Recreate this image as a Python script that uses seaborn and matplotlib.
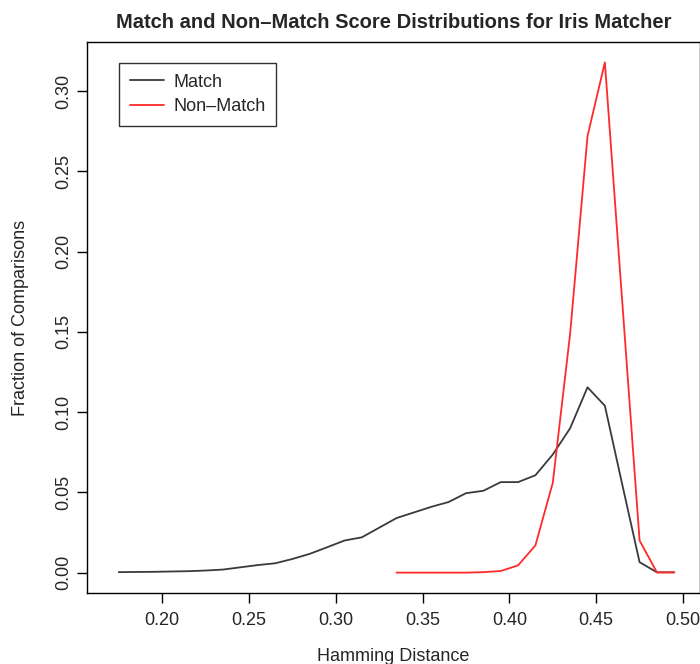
import numpy as np
import pandas as pd
import matplotlib
matplotlib.use("Agg")
import matplotlib.pyplot as plt
import seaborn as sns

match_x = [0.175, 0.185, 0.195, 0.205, 0.215, 0.225, 0.235, 0.245, 0.255, 0.265,
           0.275, 0.285, 0.295, 0.305, 0.315, 0.325, 0.335, 0.345, 0.355, 0.365,
           0.375, 0.385, 0.395, 0.405, 0.415, 0.425, 0.435, 0.445, 0.455, 0.465,
           0.475, 0.485, 0.495]
match_y = [0.0003, 0.0004, 0.0005, 0.0007, 0.0009, 0.0013, 0.0019, 0.0033, 0.0047, 0.0058,
           0.0085, 0.0117, 0.0158, 0.0200, 0.0220, 0.0280, 0.0340, 0.0375, 0.0410, 0.0440,
           0.0495, 0.0510, 0.0564, 0.0564, 0.0607, 0.0736, 0.0900, 0.1155, 0.1040, 0.0550,
           0.0065, 0.0002, 0.0002]
nonmatch_x = [0.335, 0.345, 0.355, 0.365, 0.375, 0.385, 0.395, 0.405, 0.415, 0.425,
              0.435, 0.445, 0.455, 0.465, 0.475, 0.485, 0.495]
nonmatch_y = [0.0, 0.0, 0.0, 0.0, 0.0, 0.0003, 0.0010, 0.0045, 0.0170, 0.0560,
              0.1490, 0.2720, 0.3180, 0.1690, 0.0200, 0.0001, 0.0001]

x_ticks = [0.20, 0.25, 0.30, 0.35, 0.40, 0.45, 0.50]
y_ticks = [0.00, 0.05, 0.10, 0.15, 0.20, 0.25, 0.30]

df = pd.concat([
    pd.DataFrame({"Hamming Distance": match_x, "Fraction": match_y, "Type": "Match"}),
    pd.DataFrame({"Hamming Distance": nonmatch_x, "Fraction": nonmatch_y, "Type": "Non-Match"}),
], ignore_index=True)

sns.set_style("white")
plt.rcParams["font.family"] = ["Liberation Sans", "DejaVu Sans"]

fig = plt.figure(figsize=(7.0, 6.64), dpi=100)
ax = fig.add_axes([87/700, 71/664, 613/700, 551/664])

sns.lineplot(data=df, x="Hamming Distance", y="Fraction", hue="Type",
             hue_order=["Match", "Non-Match"],
             palette={"Match": "#3a3a3a", "Non-Match": "#ff2a2a"},
             linewidth=1.3, ax=ax, legend=True)

ax.set_xlim(0.1567, 0.5098)
ax.set_ylim(-0.0127, 0.3307)
ax.set_xticks(x_ticks)
ax.set_xticklabels([f"{v:.2f}" for v in x_ticks], fontsize=13)
ax.set_yticks(y_ticks)
ax.set_yticklabels([f"{v:.2f}" for v in y_ticks], fontsize=13, rotation=90, va="center")
ax.tick_params(axis="x", direction="out", length=7.5, width=1, color="black",
               bottom=True, pad=6)
ax.tick_params(axis="y", direction="out", length=7.5, width=1, color="black",
               left=True, pad=3)
for s in ax.spines.values():
    s.set_visible(True)
    s.set_color("black")
    s.set_linewidth(1.0)

ax.set_xlabel("Hamming Distance", fontsize=13, labelpad=14)
ax.set_ylabel("Fraction of Comparisons", fontsize=13, labelpad=19)
ax.set_title("Match and Non\u2013Match Score Distributions for Iris Matcher",
             fontsize=14.5, fontweight="bold", pad=10)

leg = ax.legend(loc="upper left", bbox_to_anchor=(0.052, 0.962), borderaxespad=0,
                frameon=True, fancybox=False, edgecolor="black", fontsize=13,
                title=None, handlelength=1.9, borderpad=0.6, labelspacing=0.4,
                handletextpad=0.5)
leg.get_frame().set_linewidth(1.0)
leg.get_texts()[1].set_text("Non\u2013Match")

fig.savefig("out.png", dpi=100)
